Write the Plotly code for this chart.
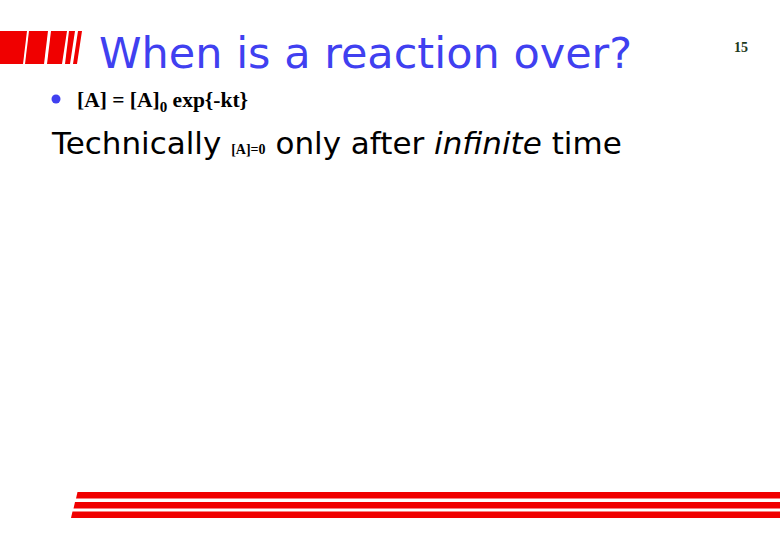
import plotly.graph_objects as go

# slide texts
title_text = "When is a reaction over?"
rate_law = "[A] = [A]<sub>0</sub> exp{-kt}"
line_parts = ["Technically ", "[A]=0", " only after ", "infinite", " time"]
page_no = "15"

# decorative red blocks (top-left), left/right edge at bottom and top
block_bottom = [(0, 23), (25, 44), (47, 62), (65, 70), (73, 77)]
block_top = [(0, 27), (29, 48), (51, 67), (69, 75), (78, 82)]

# bottom rule lines: y top, y bottom, x start
rule_top = [492, 502, 511.5]
rule_bottom = [498.5, 508.5, 518]
rule_start = [76, 73.5, 71]

RED = "#f00000"
BLUE = "#4040f0"

fig = go.Figure()

shapes = []
for (bl, br), (tl, tr) in zip(block_bottom, block_top):
    shapes.append(dict(
        type="path",
        path=f"M {bl} 64 L {br} 64 L {tr} 31 L {tl} 31 Z",
        fillcolor=RED, line=dict(width=0), layer="above"
    ))

for t, b, s in zip(rule_top, rule_bottom, rule_start):
    shapes.append(dict(
        type="path",
        path=f"M {s} {b} L 780 {b} L 780 {t} L {s + 1.5} {t} Z",
        fillcolor=RED, line=dict(width=0), layer="above"
    ))

# bullet dot
shapes.append(dict(type="circle", x0=51.5, x1=60.5, y0=94.5, y1=103.5,
                   fillcolor=BLUE, line=dict(width=0)))

annotations = [
    dict(x=97, y=53, text=title_text, xanchor="left", yanchor="middle",
         font=dict(family="DejaVu Sans", size=43, color=BLUE)),
    dict(x=75, y=101, text=f"<b>{rate_law}</b>", xanchor="left", yanchor="middle",
         font=dict(family="Liberation Serif", size=21.5, color="black")),
    dict(x=49, y=143,
         text=(line_parts[0]
               + f"<span style='font-family:Liberation Serif;font-size:14px'><b>{line_parts[1]}</b></span>"
               + line_parts[2] + f"<i>{line_parts[3]}</i>" + line_parts[4]),
         xanchor="left", yanchor="middle",
         font=dict(family="DejaVu Sans", size=31, color="black")),
    dict(x=741, y=47, text=f"<b>{page_no}</b>", xanchor="center", yanchor="middle",
         font=dict(family="Liberation Serif", size=14, color="#1c3a1c")),
]
for a in annotations:
    a["showarrow"] = False

fig.update_layout(
    width=780, height=540,
    margin=dict(l=0, r=0, t=0, b=0),
    paper_bgcolor="white", plot_bgcolor="white",
    xaxis=dict(range=[0, 780], visible=False, fixedrange=True),
    yaxis=dict(range=[540, 0], visible=False, fixedrange=True),
    shapes=shapes, annotations=annotations, showlegend=False,
)

fig.write_html("out.html", config={"displayModeBar": False},
               post_script="document.body.style.margin='0';")
